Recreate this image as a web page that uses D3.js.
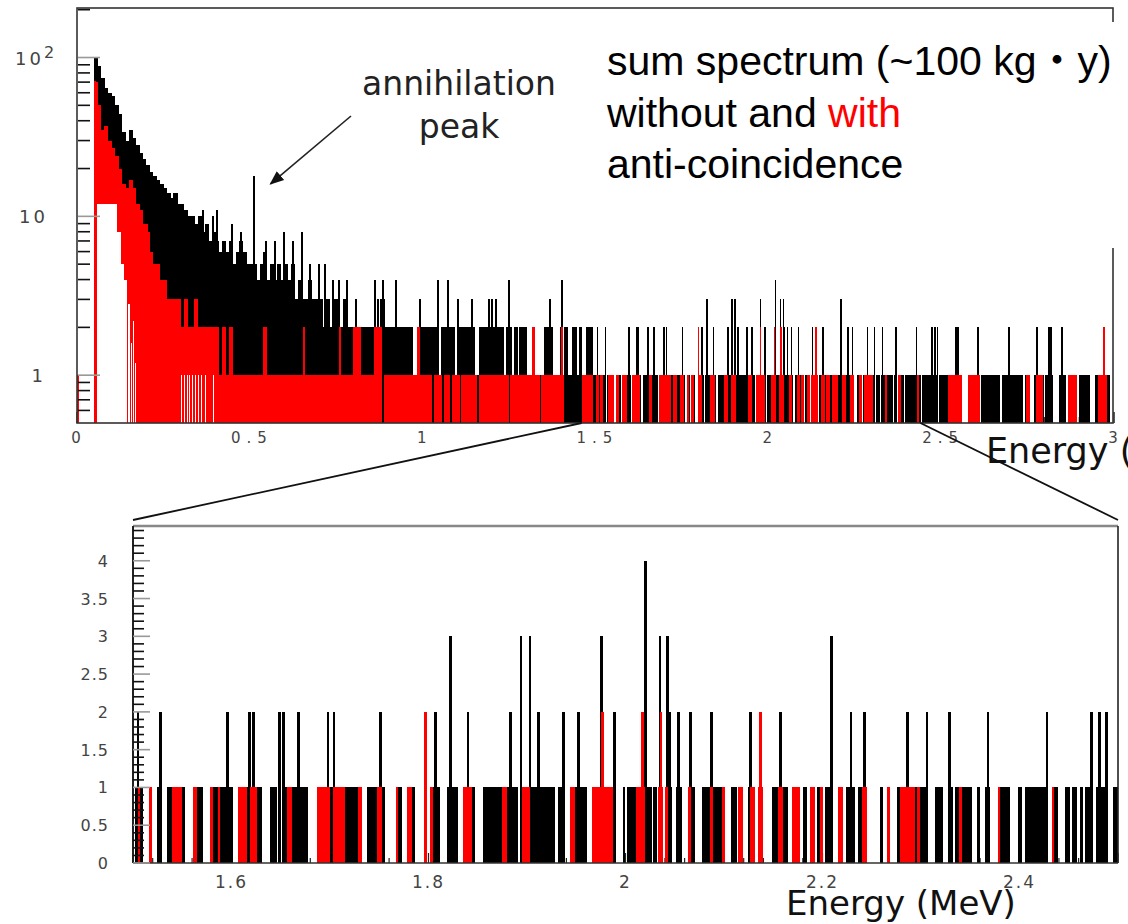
<!DOCTYPE html>
<html>
<head>
<meta charset="utf-8">
<script src="https://cdn.jsdelivr.net/npm/d3@7"></script>
<style>
  body { margin: 0; background: #fff; }
  svg { display: block; }
</style>
</head>
<body>
<svg id="chart" width="1128" height="924"></svg>
<script>
// ---- data (energy in MeV, counts per bin) ----

// low energy part of the top spectrum, 10 keV steps starting at 0.05 MeV
const lowStart = 0.05;
const lowStep = 0.01;
const blackLow = [100, 88, 74, 64, 60, 57, 50, 44, 34, 30, 35, 31, 28, 25, 23, 21, 19, 18, 17, 16,
  15, 14, 13, 14, 12, 12, 11, 10, 10, 9, 10, 8, 9, 7, 8, 7, 6, 7, 6, 7,
  5, 6, 7, 6, 5, 5, 5, 4, 5, 6, 4, 5, 4, 5, 4, 5, 4, 5, 3, 4,
  3, 3, 4, 3, 3, 3, 2, 3, 2, 3, 3, 2, 3, 2, 2];
const redLow = [70, 50, 35, 37, 30, 27, 24, 20, 16, 15, 17, 15, 12, 11, 9, 8, 6, 5, 5, 4,
  4, 3, 3, 3, 3, 2, 3, 2, 2, 3, 2, 2, 2, 2, 2, 2, 1, 2, 1, 2];

// empty (white) stretches under the low-energy part [from, to, up to counts]
const emptyLow = [[0.057, 0.116, 12], [0.116, 0.126, 8], [0.126, 0.136, 5], [0.136, 0.146, 4],
  [0.148, 0.154, 2.8], [0.156, 0.160, 1.6], [0.162, 0.166, 2.2], [0.168, 0.171, 1.2],
  [0.300, 0.304, 1], [0.309, 0.313, 1], [0.318, 0.321, 1], [0.325, 0.328, 1], [0.333, 0.336, 1],
  [0.340, 0.343, 1], [0.350, 0.352, 1], [0.358, 0.361, 1], [0.371, 0.373, 1], [0.392, 0.394, 1]];

// single-bin spikes [energy, counts]
const blackPeaksTop = [[0.364, 11], [0.392, 10], [0.403, 11], [0.446, 9], [0.472, 8], [0.511, 18],
  [0.545, 7], [0.572, 7], [0.596, 8], [0.622, 7], [0.650, 8], [0.672, 5], [0.700, 5], [0.717, 5],
  [0.740, 4], [0.757, 4], [0.780, 4], [0.806, 3], [0.861, 4], [0.870, 3], [0.878, 3], [0.884, 4],
  [0.888, 3], [0.922, 4], [0.990, 3], [1.043, 4], [1.072, 4], [1.100, 3], [1.140, 3], [1.190, 3],
  [1.200, 3], [1.210, 3], [1.249, 4], [1.367, 3], [1.402, 4],
  [2.540, 2], [2.548, 2], [2.604, 2], [2.696, 2], [2.777, 2], [2.810, 2], [2.816, 2], [2.847, 2]];
const redPeaksTop = [[0.002, 1], [0.052, 71], [0.200, 9], [2.970, 2]];

// runs [from, to, counts] outside the zoomed window
const blackRunsTop = [[0.80, 1.50, 1],
  [0.80, 0.972, 2], [0.986, 1.044, 2], [1.054, 1.092, 2], [1.107, 1.150, 2], [1.165, 1.233, 2],
  [1.242, 1.256, 2], [1.266, 1.275, 2], [1.280, 1.299, 2], [1.319, 1.324, 2], [1.353, 1.377, 2],
  [1.399, 1.403, 2], [1.410, 1.420, 2], [1.434, 1.444, 2], [1.454, 1.459, 2], [1.473, 1.492, 2],
  [2.500, 2.560, 1], [2.578, 2.612, 1], [2.618, 2.668, 1], [2.676, 2.734, 1], [2.744, 2.756, 1],
  [2.770, 2.795, 1], [2.803, 2.821, 1], [2.841, 2.861, 1], [2.868, 2.892, 1], [2.899, 2.928, 1],
  [2.946, 2.986, 1]];
const redRunsTop = [[0.45, 0.509, 1], [0.513, 0.795, 1], [0.800, 0.880, 1], [0.890, 1.025, 1],
  [1.034, 1.054, 1], [1.063, 1.078, 1], [1.088, 1.107, 1], [1.112, 1.155, 1], [1.165, 1.198, 1],
  [1.203, 1.247, 1], [1.256, 1.299, 1], [1.304, 1.338, 1], [1.343, 1.377, 1], [1.382, 1.406, 1],
  [1.463, 1.492, 1],
  [0.540, 0.548, 2], [0.655, 0.658, 2], [0.760, 0.763, 2], [0.800, 0.820, 2], [0.860, 0.879, 2],
  [0.986, 0.989, 2], [1.319, 1.322, 2], [1.401, 1.404, 2],
  [2.523, 2.558, 1], [2.581, 2.610, 1], [2.746, 2.754, 1], [2.777, 2.792, 1], [2.870, 2.890, 1],
  [2.957, 2.977, 1]];

// zoomed window 1.5 - 2.5 MeV (shown in both panels)
const zoomBlackRuns = [[1.502, 1.510], [1.516, 1.519], [1.524, 1.527], [1.535, 1.553], [1.561, 1.571],
  [1.578, 1.602], [1.607, 1.631], [1.639, 1.646], [1.652, 1.678], [1.687, 1.732], [1.738, 1.756],
  [1.767, 1.773], [1.778, 1.786], [1.802, 1.812], [1.819, 1.830], [1.835, 1.847], [1.855, 1.891],
  [1.895, 1.928], [1.931, 1.937], [1.944, 1.961], [1.966, 1.989], [1.997, 1.999], [2.002, 2.027],
  [2.028, 2.032], [2.033, 2.038], [2.040, 2.047], [2.051, 2.057], [2.063, 2.071], [2.078, 2.101],
  [2.107, 2.113], [2.114, 2.119], [2.124, 2.131], [2.135, 2.140], [2.149, 2.165], [2.169, 2.177],
  [2.180, 2.184], [2.187, 2.192], [2.194, 2.200], [2.203, 2.211], [2.216, 2.221], [2.224, 2.233],
  [2.236, 2.245], [2.258, 2.261], [2.265, 2.269], [2.276, 2.306], [2.314, 2.322], [2.329, 2.332],
  [2.335, 2.352], [2.357, 2.360], [2.365, 2.370], [2.378, 2.390], [2.398, 2.403], [2.406, 2.428],
  [2.433, 2.439], [2.446, 2.451], [2.453, 2.458], [2.461, 2.464], [2.467, 2.472], [2.478, 2.490],
  [2.495, 2.500]];
const zoomRedRuns = [[1.505, 1.507], [1.516, 1.519], [1.540, 1.550], [1.561, 1.565], [1.578, 1.581],
  [1.586, 1.588], [1.607, 1.616], [1.619, 1.626], [1.656, 1.661], [1.687, 1.700], [1.703, 1.715],
  [1.728, 1.732], [1.748, 1.753], [1.767, 1.769], [1.778, 1.783], [1.802, 1.805], [1.835, 1.844],
  [1.875, 1.880], [1.895, 1.903], [1.944, 1.949], [1.966, 1.987], [2.011, 2.020], [2.033, 2.038],
  [2.040, 2.043], [2.063, 2.067], [2.086, 2.089], [2.098, 2.101], [2.114, 2.119], [2.126, 2.131],
  [2.135, 2.140], [2.155, 2.160], [2.169, 2.177], [2.187, 2.192], [2.197, 2.200], [2.216, 2.221],
  [2.240, 2.245], [2.265, 2.269], [2.279, 2.294], [2.296, 2.299], [2.339, 2.342], [2.378, 2.380],
  [2.433, 2.434]];
const zoomBlackPeaks = [[1.505, 2], [1.528, 2], [1.596, 2], [1.618, 2], [1.622, 2], [1.649, 2],
  [1.653, 2], [1.668, 2], [1.698, 2], [1.704, 2], [1.751, 2], [1.797, 2], [1.807, 2], [1.822, 3],
  [1.840, 2], [1.883, 2], [1.894, 3], [1.903, 3], [1.912, 2], [1.937, 2], [1.952, 2], [1.976, 3],
  [1.989, 2], [2.020, 4], [2.035, 3], [2.043, 3], [2.045, 2], [2.054, 2], [2.066, 2], [2.087, 2],
  [2.127, 2], [2.157, 2], [2.209, 3], [2.229, 2], [2.243, 2], [2.286, 2], [2.306, 2], [2.329, 2],
  [2.368, 2], [2.428, 2], [2.473, 2], [2.481, 2], [2.488, 2]];
const zoomRedPeaks = [[1.797, 2], [1.977, 2], [2.017, 2], [2.036, 2], [2.137, 2]];

const binWidth = 0.0028;

// ---- layout ----
const svg = d3.select("#chart");
const xTop = d3.scaleLinear().domain([0, 3]).range([77, 1114]);
const yTop = d3.scaleLog().domain([0.5, 205]).range([423, 8]);
const xBot = d3.scaleLinear().domain([1.5, 2.5]).range([133, 1118]);
const yBot = d3.scaleLinear().domain([0, 4.46]).range([863, 526]);

const tickFont = "'DejaVu Sans', sans-serif";
const comic = "'Comic Sans MS', 'DejaVu Sans', sans-serif";

const lowBins = (vals) => vals.map((v, i) => [lowStart + i * lowStep, lowStart + (i + 1) * lowStep, v]);
const peakBins = (pk) => pk.map(([e, n]) => [e - binWidth / 2, e + binWidth / 2, n]);
const runBins = (runs) => runs.map(([a, b]) => [a, b, 1]);

// pad widens every bar a little (the small panel smears narrow bins)
function drawBars(g, bins, x, y, color, minW, pad) {
  const base = y.range()[0];
  g.append("g").attr("shape-rendering", "crispEdges")
    .selectAll("rect").data(bins).join("rect")
    .attr("x", d => x(d[0]) - pad / 2)
    .attr("width", d => Math.max(minW, x(d[1]) - x(d[0]) + pad))
    .attr("y", d => y(d[2]))
    .attr("height", d => base - y(d[2]))
    .attr("fill", color);
}

// ================= top panel =================
const topG = svg.append("g");

// x ticks (mostly hidden behind the bars)
topG.append("g").selectAll("line").data(d3.range(0, 3.01, 0.1)).join("line")
  .attr("x1", d => xTop(d)).attr("x2", d => xTop(d))
  .attr("y1", 423).attr("y2", (d, i) => 423 - (i % 5 === 0 ? 11 : 6))
  .attr("stroke", "#222").attr("stroke-width", 1.5);

drawBars(topG, lowBins(blackLow), xTop, yTop, "#000", 1, 0.6);
drawBars(topG, blackRunsTop, xTop, yTop, "#000", 1, 1);
drawBars(topG, runBins(zoomBlackRuns), xTop, yTop, "#000", 1, 1.2);
drawBars(topG, peakBins(zoomBlackPeaks), xTop, yTop, "#000", 1.5, 0);
drawBars(topG, peakBins(blackPeaksTop), xTop, yTop, "#000", 2, 0);
drawBars(topG, lowBins(redLow), xTop, yTop, "#ff0000", 1, 0.6);
drawBars(topG, redRunsTop, xTop, yTop, "#ff0000", 1, 1.4);
drawBars(topG, runBins(zoomRedRuns), xTop, yTop, "#ff0000", 1, 1.8);
drawBars(topG, peakBins(zoomRedPeaks), xTop, yTop, "#ff0000", 1.5, 0);
drawBars(topG, emptyLow, xTop, yTop, "#fff", 1, 0);
drawBars(topG, peakBins(redPeaksTop), xTop, yTop, "#ff0000", 2, 0);

// frame
topG.append("rect").attr("x", 77).attr("y", 8).attr("width", 1036).attr("height", 415)
  .attr("fill", "none").attr("stroke", "#333").attr("stroke-width", 1.6);

// log y ticks, drawn inward
const logTicks = [0.6, 0.7, 0.8, 0.9].concat(d3.range(1, 10), d3.range(10, 100, 10), [100, 200]);
const isMajor = v => v === 1 || v === 10 || v === 100;
topG.append("g").selectAll("line").data(logTicks).join("line")
  .attr("x1", 78).attr("x2", d => 78 + (isMajor(d) ? 22 : 12))
  .attr("y1", d => yTop(d)).attr("y2", d => yTop(d))
  .attr("stroke", d => isMajor(d) ? "#999" : "#111").attr("stroke-width", 1.6);

const yLab = topG.append("g").attr("font-family", tickFont).attr("font-size", 18).attr("fill", "#444")
  .attr("letter-spacing", 3);
const lab100 = yLab.append("text").attr("x", 15).attr("y", yTop(100) + 7);
lab100.append("tspan").text("10");
lab100.append("tspan").attr("dy", -7).attr("font-size", 16).text("2");
yLab.append("text").attr("x", 48).attr("y", yTop(10) + 7).attr("text-anchor", "end").text("10");
yLab.append("text").attr("x", 46).attr("y", yTop(1) + 7).attr("text-anchor", "end").text("1");

topG.append("g").selectAll("text").data([0, 0.5, 1, 1.5, 2, 2.5, 3]).join("text")
  .attr("x", d => xTop(d) + 2).attr("y", 443)
  .attr("text-anchor", "middle").attr("font-family", tickFont).attr("font-size", 15)
  .attr("letter-spacing", 6).attr("fill", "#444")
  .text(d => d3.format("~g")(d));

topG.append("text").attr("x", 986).attr("y", 463).attr("font-family", comic).attr("font-size", 35)
  .attr("fill", "#111").text("Energy (MeV)");

// annotation
topG.append("g").attr("font-family", comic).attr("font-size", 33).attr("fill", "#222")
  .attr("text-anchor", "middle")
  .selectAll("text").data(["annihilation", "peak"]).join("text")
  .attr("x", 459).attr("y", (d, i) => 95 + i * 43).text(d => d);

svg.append("defs").append("marker").attr("id", "head")
  .attr("viewBox", "0 0 10 10").attr("refX", 9).attr("refY", 5)
  .attr("markerWidth", 9).attr("markerHeight", 9).attr("orient", "auto")
  .append("path").attr("d", "M0,1 L10,5 L0,9 Z").attr("fill", "#111");
topG.append("line")
  .attr("x1", 351).attr("y1", 116).attr("x2", xTop(0.56)).attr("y2", yTop(16))
  .attr("stroke", "#222").attr("stroke-width", 1.6).attr("marker-end", "url(#head)");

// text box
topG.append("rect").attr("x", 585).attr("y", 22).attr("width", 543).attr("height", 226).attr("fill", "#fff");
const box = topG.append("g").attr("font-family", "'Liberation Sans', Arial, sans-serif")
  .attr("font-size", 41).attr("fill", "#000");
const l1 = box.append("text").attr("x", 607).attr("y", 75);
l1.append("tspan").text("sum spectrum (~100 kg");
l1.append("tspan").attr("font-family", "'Noto Sans CJK JP', sans-serif").text("・");
l1.append("tspan").text("y)");
const l2 = box.append("text").attr("x", 607).attr("y", 127);
l2.append("tspan").text("without and ");
l2.append("tspan").attr("fill", "#ff0000").text("with");
box.append("text").attr("x", 607).attr("y", 178).text("anti-coincidence");

// ================= bottom panel =================
const botG = svg.append("g");

botG.append("g").selectAll("line").data(d3.range(1.5, 2.501, 0.02)).join("line")
  .attr("x1", d => xBot(d)).attr("x2", d => xBot(d))
  .attr("y1", 863).attr("y2", (d, i) => 863 - (i % 5 === 0 ? 10 : 5))
  .attr("stroke", "#222").attr("stroke-width", 1.2);

drawBars(botG, runBins(zoomBlackRuns), xBot, yBot, "#000", 1.5, 0);
drawBars(botG, peakBins(zoomBlackPeaks), xBot, yBot, "#000", 2.5, 0);
drawBars(botG, runBins(zoomRedRuns), xBot, yBot, "#ff0000", 1.5, 0);
drawBars(botG, peakBins(zoomRedPeaks), xBot, yBot, "#ff0000", 2.5, 0);

botG.append("line").attr("x1", 133).attr("x2", 1118).attr("y1", 526).attr("y2", 526)
  .attr("stroke", "#888").attr("stroke-width", 2.5);
botG.append("line").attr("x1", 1118).attr("x2", 1118).attr("y1", 526).attr("y2", 863)
  .attr("stroke", "#222").attr("stroke-width", 1.6);
botG.append("line").attr("x1", 133).attr("x2", 1118).attr("y1", 863).attr("y2", 863)
  .attr("stroke", "#333").attr("stroke-width", 1.6);
botG.append("line").attr("x1", 133).attr("x2", 133).attr("y1", 526).attr("y2", 863)
  .attr("stroke", "#222").attr("stroke-width", 2);

const linTicks = d3.range(0, 45).map(i => i / 10);
botG.append("g").selectAll("line").data(linTicks).join("line")
  .attr("x1", 133).attr("x2", (d, i) => 133 + (i % 5 === 0 ? 17 : 11))
  .attr("y1", d => yBot(d)).attr("y2", d => yBot(d))
  .attr("stroke", (d, i) => i % 5 === 0 ? "#999" : "#111").attr("stroke-width", 1.6);

botG.append("g").selectAll("text").data(d3.range(0, 4.01, 0.5)).join("text")
  .attr("x", 109).attr("y", d => yBot(d) + 6)
  .attr("text-anchor", "end").attr("font-family", tickFont).attr("font-size", 16)
  .attr("letter-spacing", 1).attr("fill", "#444")
  .text(d => d3.format("~g")(d));

botG.append("g").selectAll("text").data([1.6, 1.8, 2, 2.2, 2.4]).join("text")
  .attr("x", d => xBot(d)).attr("y", 888)
  .attr("text-anchor", "middle").attr("font-family", tickFont).attr("font-size", 17)
  .attr("letter-spacing", 2).attr("fill", "#444")
  .text(d => d3.format("~g")(d));

botG.append("text").attr("x", 786).attr("y", 915).attr("font-family", comic).attr("font-size", 34)
  .attr("fill", "#111").text("Energy (MeV)");

// zoom guide lines
const guides = [[1.46, 1.5], [2.44, 2.5]];
svg.append("g").selectAll("line").data(guides).join("line")
  .attr("x1", d => xTop(d[0])).attr("y1", 423)
  .attr("x2", d => xBot(d[1])).attr("y2", 520)
  .attr("stroke", "#111").attr("stroke-width", 1.8);
</script>
</body>
</html>
